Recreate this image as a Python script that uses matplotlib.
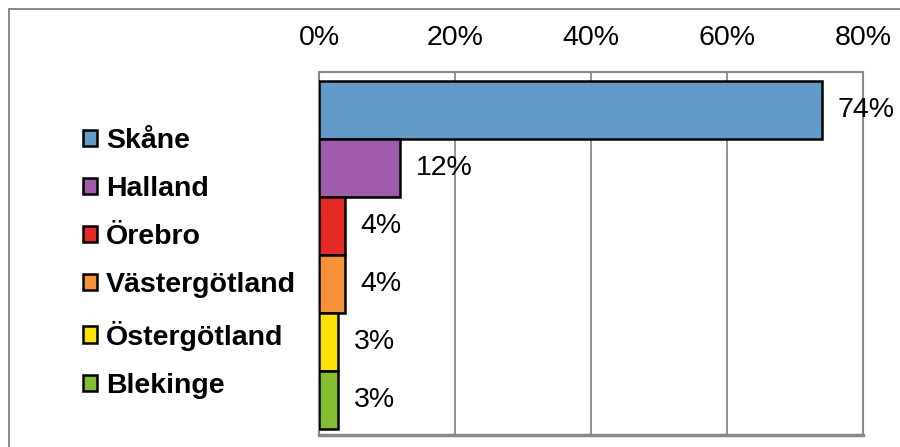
import matplotlib.pyplot as plt
from matplotlib.patches import Rectangle

# data
regioner = ['Skåne', 'Halland', 'Örebro', 'Västergötland', 'Östergötland', 'Blekinge']
andel = [74.0, 11.9, 3.8, 3.8, 2.8, 2.8]
etiketter = ['74%', '12%', '4%', '4%', '3%', '3%']
farger = ['#639BC8', '#9E5CAA', '#E52A25', '#F7913A', '#FFE100', '#82BE30']
ticks = [0, 20, 40, 60, 80]

plt.rcParams['font.family'] = ['Liberation Sans', 'DejaVu Sans']

fig = plt.figure(figsize=(9, 4.47), dpi=100)
ax = fig.add_axes([0.3544, 0.0268, 0.6046, 0.8122])

pos = range(len(regioner))
bars = ax.barh(pos, andel, height=1.0, color=farger, edgecolor='black',
               linewidth=1.8, label=regioner, zorder=3)

for b, txt in zip(bars, etiketter):
    ax.text(b.get_width() + 2.3, b.get_y() + b.get_height() / 2, txt,
            va='center', ha='left', fontsize=20.5, zorder=4)

ax.set_xlim(0, 80)
ax.set_ylim(5.6, -0.655)
ax.set_xticks(ticks)
ax.set_xticklabels([f'{t}%' for t in ticks], fontsize=20.5)
ax.xaxis.tick_top()
ax.tick_params(axis='x', length=0, pad=15)
ax.set_yticks([])
ax.grid(axis='x', color='#808080', linewidth=1.2, zorder=0)
for s in ax.spines.values():
    s.set_color('#888888')
    s.set_linewidth(1.5)
ax.spines['bottom'].set_linewidth(2.5)

leg = fig.legend(handles=list(bars), labels=regioner, loc='center left',
                 bbox_to_anchor=(0.0922, 0.411), frameon=False,
                 prop={'size': 20.5, 'weight': 'bold'},
                 handlelength=0.5, handleheight=0.5, handletextpad=0.3,
                 labelspacing=0.78, borderpad=0, borderaxespad=0)

# yttre ram
fig.patches.append(Rectangle((9 / 900, -0.02), 1.0, 1 - 9 / 447 + 0.02,
                             transform=fig.transFigure, fill=False,
                             edgecolor='#808080', linewidth=1.3))

fig.savefig('out.png', dpi=100)
